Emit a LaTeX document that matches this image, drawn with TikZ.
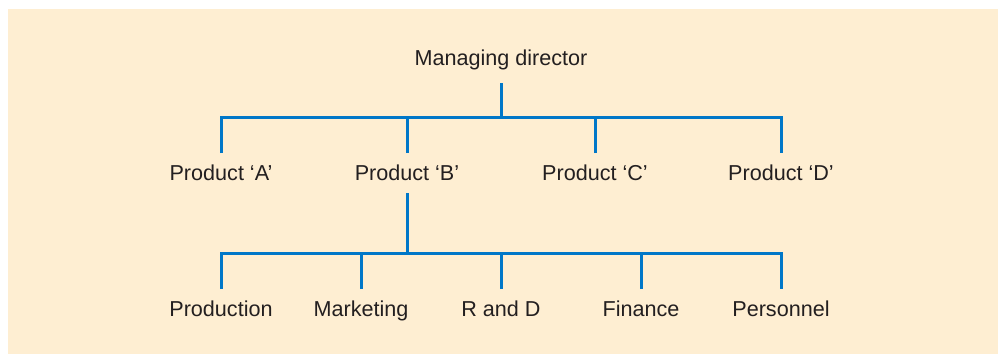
\documentclass[tikz,border=0pt]{standalone}
\usepackage{fontspec}
\setmainfont{Liberation Sans}
\definecolor{chartbg}{HTML}{FEEED2}
\definecolor{chartblue}{RGB}{0,119,200}
\definecolor{charttext}{HTML}{231F20}

\tikzset{
  post/.style={anchor=base,text=charttext,font=\fontsize{10.8}{12}\selectfont,
    text height=7.7pt,text depth=1pt,inner xsep=2pt,inner ysep=5.5pt},
  link/.style={draw=chartblue,line width=1.5pt}
}

\begin{document}
\begin{tikzpicture}[x=0.5pt,y=-0.5pt]
\useasboundingbox (0,0) rectangle (998,354);
\fill[chartbg] (8,9) rectangle (998,354);

\node[post] (md) at (501,65) {Managing director};

\node[post] (pa) at (221,180) {Product `A'};
\node[post] (pb) at (407,180) {Product `B'};
\node[post] (pc) at (595,180) {Product `C'};
\node[post] (pd) at (781,180) {Product `D'};

\node[post] (prod) at (221,316) {Production};
\node[post] (mark) at (361,316) {Marketing};
\node[post] (rnd)  at (501,316) {R and D};
\node[post] (fin)  at (641,316) {Finance};
\node[post] (pers) at (781,316) {Personnel};

\coordinate (topbus) at (501,117);
\coordinate (lowbus) at (407,253);

\draw[link,shorten <=2.5pt] (md.south) -- (topbus);
\draw[link] (pa.north) |- (topbus) -| (pd.north);
\draw[link] (pb.north) -- (pb.north |- topbus);
\draw[link] (pc.north) -- (pc.north |- topbus);

\draw[link] (pb.south) -- (lowbus);
\draw[link] (prod.north) |- (lowbus) -| (pers.north);
\draw[link] (mark.north) -- (mark.north |- lowbus);
\draw[link] (rnd.north) -- (rnd.north |- lowbus);
\draw[link] (fin.north) -- (fin.north |- lowbus);

\end{tikzpicture}
\end{document}
